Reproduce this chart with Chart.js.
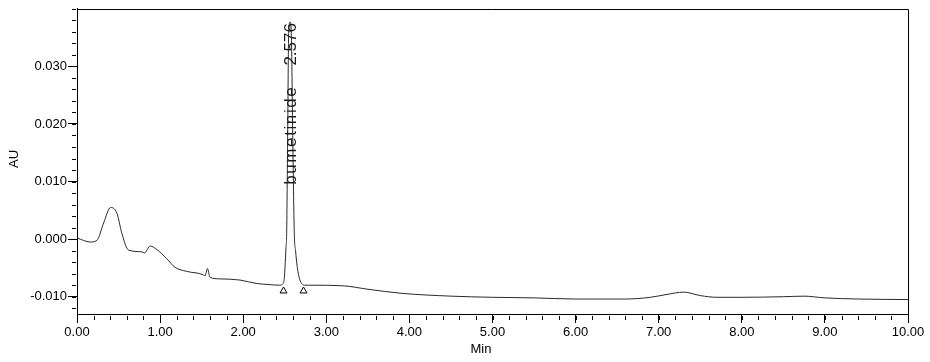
<!DOCTYPE html>
<html>
<head>
<meta charset="utf-8">
<script src="https://cdn.jsdelivr.net/npm/chart.js@4"></script>
<style>
  html, body { margin: 0; padding: 0; background: #fff; }
  canvas { display: block; }
</style>
</head>
<body>
<canvas id="chrom" width="930" height="362"></canvas>
<script>
// DATA
const TIME = [
  0.00, 0.16, 0.24, 0.32, 0.405, 0.48, 0.54, 0.62, 0.78, 0.81, 0.88, 0.96,
  1.08, 1.18, 1.32, 1.52, 1.54, 1.57, 1.60, 1.72, 1.96, 2.16, 2.32, 2.44,
  2.48, 2.495, 2.503, 2.515, 2.523, 2.535, 2.547, 2.563, 2.579, 2.596,
  2.615, 2.630, 2.651, 2.68, 2.71, 2.74, 2.80, 3.20, 3.50, 3.90, 4.50,
  5.00, 5.50, 6.00, 6.60, 6.90, 7.10, 7.30, 7.50, 7.70, 8.00, 8.50, 8.75,
  9.00, 9.40, 10.00
];
const AU = [
  0.0002, -0.0005, -0.0002, 0.0028, 0.0055, 0.0045, 0.0010, -0.0019, -0.0022, -0.0024, -0.0012, -0.0018,
  -0.0034, -0.0049, -0.0056, -0.0062, -0.0064, -0.0051, -0.0066, -0.0069, -0.0071, -0.0077, -0.0079, -0.0080,
  -0.0077, -0.0068, -0.0049, -0.0015, 0.0010, 0.0180, 0.0357, 0.0377, 0.0357, 0.0180,
  0.0010, -0.0020, -0.0049, -0.0070, -0.0078, -0.0080, -0.0080, -0.0081, -0.0087, -0.0094, -0.0099,
  -0.0101, -0.0102, -0.0104, -0.0104, -0.0101, -0.0096, -0.0092, -0.0098, -0.0101, -0.0101, -0.0100, -0.0099,
  -0.0102, -0.0104, -0.0105
];

// peak integration marks (baseline start / end)
const MARK_TIME = [2.485, 2.726];
const MARK_AU = [-0.0090, -0.0090];

const PEAK_NAME = "bumetinide";
const PEAK_RT = 2.576;
const PEAK_TOP = 0.0377;

const X_TICKS = [0, 1, 2, 3, 4, 5, 6, 7, 8, 9, 10];
const Y_TICKS = [-0.010, 0.000, 0.010, 0.020, 0.030];
const X_MIN = 0, X_MAX = 10;
const Y_MIN = -0.013, Y_MAX = 0.040;
const X_MINOR_STEP = 0.2;
const Y_MINOR_STEP = 0.002;

const FONT = "'Liberation Sans', Arial, Helvetica, sans-serif";

// minor ticks, frame, axis titles, peak label
const decorations = {
  id: "decorations",
  afterDraw(c) {
    const ctx = c.ctx;
    const a = c.chartArea;
    const xs = c.scales.x;
    const ys = c.scales.y;

    ctx.save();
    ctx.strokeStyle = "#000";
    ctx.lineWidth = 1;

    // frame top + right
    ctx.beginPath();
    ctx.moveTo(Math.round(a.left), Math.round(a.top) + 0.5);
    ctx.lineTo(Math.round(a.right) + 0.5, Math.round(a.top) + 0.5);
    ctx.lineTo(Math.round(a.right) + 0.5, Math.round(a.bottom));
    ctx.stroke();

    // minor ticks
    ctx.beginPath();
    for (let v = X_MIN; v <= X_MAX + 1e-9; v += X_MINOR_STEP) {
      const px = Math.round(xs.getPixelForValue(v)) + 0.5;
      ctx.moveTo(px, a.bottom + 2);
      ctx.lineTo(px, a.bottom + 6);
    }
    for (let v = -0.012; v <= Y_MAX + 1e-9; v += Y_MINOR_STEP) {
      const py = Math.round(ys.getPixelForValue(v)) + 0.5;
      ctx.moveTo(a.left - 1, py);
      ctx.lineTo(a.left - 5, py);
    }
    ctx.stroke();

    // axis titles
    ctx.fillStyle = "#000";
    ctx.font = "13px " + FONT;
    ctx.textAlign = "center";
    ctx.textBaseline = "middle";
    ctx.fillText("Min", 481, 349);
    ctx.save();
    ctx.translate(14, 159);
    ctx.rotate(-Math.PI / 2);
    ctx.fillText("AU", 0, 0);
    ctx.restore();

    // peak label
    const px = xs.getPixelForValue(PEAK_RT);
    const py = ys.getPixelForValue(PEAK_TOP) + 1;
    ctx.fillStyle = "#1a1a1a";
    ctx.font = "17px " + FONT;
    ctx.textAlign = "right";
    ctx.textBaseline = "middle";
    ctx.translate(px, py);
    ctx.rotate(-Math.PI / 2);
    const rt = PEAK_RT.toFixed(3);
    ctx.fillText(rt, 0, 0);
    const w = ctx.measureText(rt).width;
    ctx.letterSpacing = "1.6px";
    ctx.fillText(PEAK_NAME, -(w + 20), 0);
    ctx.restore();
  }
};

const tickFont = { family: FONT, size: 13 };

new Chart(document.getElementById("chrom"), {
  type: "line",
  data: {
    datasets: [
      {
        data: TIME.map((t, i) => ({ x: t, y: AU[i] })),
        borderColor: "#2a2a2a",
        borderWidth: 1,
        pointRadius: 0,
        cubicInterpolationMode: "monotone",
        fill: false
      },
      {
        data: MARK_TIME.map((t, i) => ({ x: t, y: MARK_AU[i] })),
        showLine: false,
        pointStyle: "triangle",
        pointRadius: 4,
        borderColor: "#000",
        backgroundColor: "#fff",
        borderWidth: 1
      }
    ]
  },
  options: {
    responsive: false,
    animation: false,
    devicePixelRatio: 1,
    layout: { padding: { top: 8, right: 22, left: 0, bottom: 0 } },
    plugins: { legend: { display: false }, tooltip: { enabled: false } },
    scales: {
      x: {
        type: "linear",
        min: X_MIN,
        max: X_MAX,
        afterBuildTicks: s => { s.ticks = X_TICKS.map(v => ({ value: v })); },
        afterFit: s => { s.height = 48; },
        ticks: {
          color: "#000",
          font: tickFont,
          padding: 2,
          maxRotation: 0,
          autoSkip: false,
          callback: v => Number(v).toFixed(2)
        },
        grid: { drawOnChartArea: false, drawTicks: true, tickLength: 9, color: "#000" },
        border: { display: true, color: "#000", width: 1 }
      },
      y: {
        min: Y_MIN,
        max: Y_MAX,
        afterBuildTicks: s => { s.ticks = Y_TICKS.map(v => ({ value: v })); },
        afterFit: s => { s.width = 77; },
        ticks: {
          color: "#000",
          font: tickFont,
          padding: 1,
          autoSkip: false,
          callback: v => Number(v).toFixed(3)
        },
        grid: { drawOnChartArea: false, drawTicks: true, tickLength: 9, color: "#000" },
        border: { display: true, color: "#000", width: 1 }
      }
    }
  },
  plugins: [decorations]
});
</script>
</body>
</html>
